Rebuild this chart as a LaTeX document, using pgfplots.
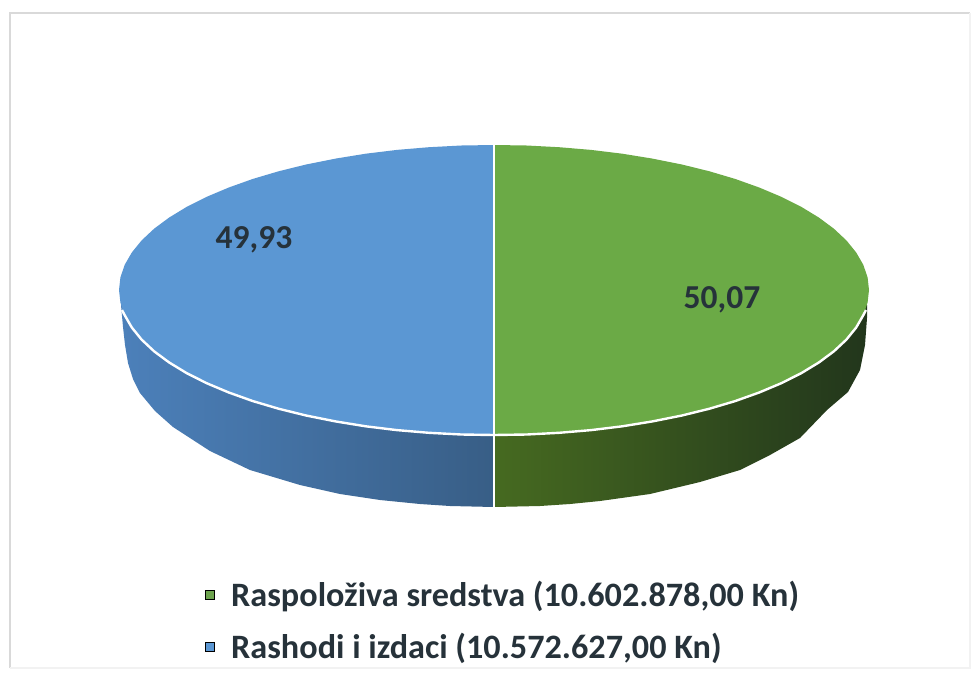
\documentclass[border=0pt]{standalone}
\usepackage{pgfplots}
\pgfplotsset{compat=1.18}
\usepackage{fontspec}
\setmainfont{Carlito}

\definecolor{zelena}{HTML}{6BAA46}
\definecolor{plava}{HTML}{5B97D3}
\definecolor{tekst}{HTML}{26323A}
\definecolor{plavaL}{HTML}{4C80BA}
\definecolor{plavaD}{HTML}{385E86}
\definecolor{zelenaL}{HTML}{466A20}
\definecolor{zelenaD}{HTML}{22361C}

\begin{document}
\begin{tikzpicture}
\begin{axis}[
    scale only axis,
    width=971pt,
    height=675pt,
    xmin=0, xmax=971,
    ymin=0, ymax=675,
    y dir=reverse,
    hide axis,
    clip=true,
    legend cell align=left,
    legend style={
      at={(axis cs:205,580)}, anchor=north west,
      draw=none, fill=none,
      font=\fontsize{34.2}{40}\selectfont\bfseries\color{tekst},
      row sep=23pt,
      inner sep=0pt,
      nodes={inner xsep=17pt, inner ysep=1pt},
    },
  ]
  % keeps the whole page
  \addplot[forget plot, draw=none] coordinates {(0,0) (971,675)};

  % frame
  \addplot[forget plot, draw=black!15, line width=2pt] coordinates {(10,668) (10,13) (970,13)};
  \addplot[forget plot, draw=black!5, line width=1.5pt] coordinates {(970,13) (970,668) (10,668)};

  % sides
  \addplot[forget plot, draw=none, left color=plavaL, right color=plavaD] coordinates {
    (494,507) (450,506) (420,504) (380,500) (340,494) (300,485) (250,470) (210,451) (173,427)
    (155,411) (140,393) (133,379) (128,363) (125,345) (123,327) (121,305) (494,300)
  };
  \addplot[forget plot, draw=none, left color=zelenaL, right color=zelenaD] coordinates {
    (494,507) (540,506) (570,504) (600,501) (650,494) (700,482) (740,470) (770,455) (800,438)
    (827,410) (848,392) (860,370) (865,345) (867,318) (867,305) (494,300)
  };

  % top, green half
  \addplot[forget plot, draw=none, fill=zelena] coordinates {
    (494,145) (526.7,145.5) (559.1,147.2) (591.1,149.9) (622.3,153.7) (652.5,158.6) (681.5,164.4)
    (709.1,171.2) (735.1,178.9) (759.2,187.5) (781.3,196.8) (801.2,206.8) (818.8,217.5)
    (833.9,228.7) (846.4,240.4) (856.2,252.5) (863.3,264.8) (867.6,277.4) (869,290)
    (867.6,302.6) (863.3,315.2) (856.2,327.5) (846.4,339.6) (833.9,351.3) (818.8,362.5)
    (801.2,373.2) (781.3,383.2) (759.2,392.5) (735.1,401.1) (709.1,408.8) (681.5,415.6)
    (652.5,421.4) (622.3,426.3) (591.1,430.1) (559.1,432.8) (526.7,434.5) (494,435)
  };
  % top, blue half
  \addplot[forget plot, draw=none, fill=plava] coordinates {
    (494,145) (461.3,145.5) (428.9,147.2) (396.9,149.9) (365.7,153.7) (335.5,158.6) (306.5,164.4)
    (278.9,171.2) (252.9,178.9) (228.8,187.5) (206.7,196.8) (186.8,206.8) (169.2,217.5)
    (154.1,228.7) (141.6,240.4) (131.8,252.5) (124.7,264.8) (120.4,277.4) (119,290)
    (120.4,302.6) (124.7,315.2) (131.8,327.5) (141.6,339.6) (154.1,351.3) (169.2,362.5)
    (186.8,373.2) (206.7,383.2) (228.8,392.5) (252.9,401.1) (278.9,408.8) (306.5,415.6)
    (335.5,421.4) (365.7,426.3) (396.9,430.1) (428.9,432.8) (461.3,434.5) (494,435)
  };

  % white rim and divider
  \addplot[forget plot, draw=white, line width=2.4pt] coordinates {
    (122,310) (124.7,315.2) (131.8,327.5) (141.6,339.6) (154.1,351.3) (169.2,362.5)
    (186.8,373.2) (206.7,383.2) (228.8,392.5) (252.9,401.1) (278.9,408.8) (306.5,415.6)
    (335.5,421.4) (365.7,426.3) (396.9,430.1) (428.9,432.8) (461.3,434.5) (494,435)
    (526.7,434.5) (559.1,432.8) (591.1,430.1) (622.3,426.3) (652.5,421.4) (681.5,415.6)
    (709.1,408.8) (735.1,401.1) (759.2,392.5) (781.3,383.2) (801.2,373.2) (818.8,362.5)
    (833.9,351.3) (846.4,339.6) (856.2,327.5) (863.3,315.2) (866,310)
  };
  \addplot[forget plot, draw=white, line width=2.6pt] coordinates {(494,145) (494,508)};

  % legend entries
  \addlegendimage{only marks, mark=square*, mark size=4.5pt, mark options={fill=zelena!85!gray, draw=none}}
  \addlegendentry{Raspoloživa sredstva (10.602.878,00 Kn)}
  \addlegendimage{only marks, mark=square*, mark size=4.5pt, mark options={fill=plava, draw=none}}
  \addlegendentry{Rashodi i izdaci (10.572.627,00 Kn)}

  % value labels
  \node[text=tekst, font=\fontsize{33.5}{40}\selectfont\bfseries] at (axis cs:254,240) {49,93};
  \node[text=tekst, font=\fontsize{33.5}{40}\selectfont\bfseries] at (axis cs:722,300) {50,07};
\end{axis}
\end{tikzpicture}
\end{document}
